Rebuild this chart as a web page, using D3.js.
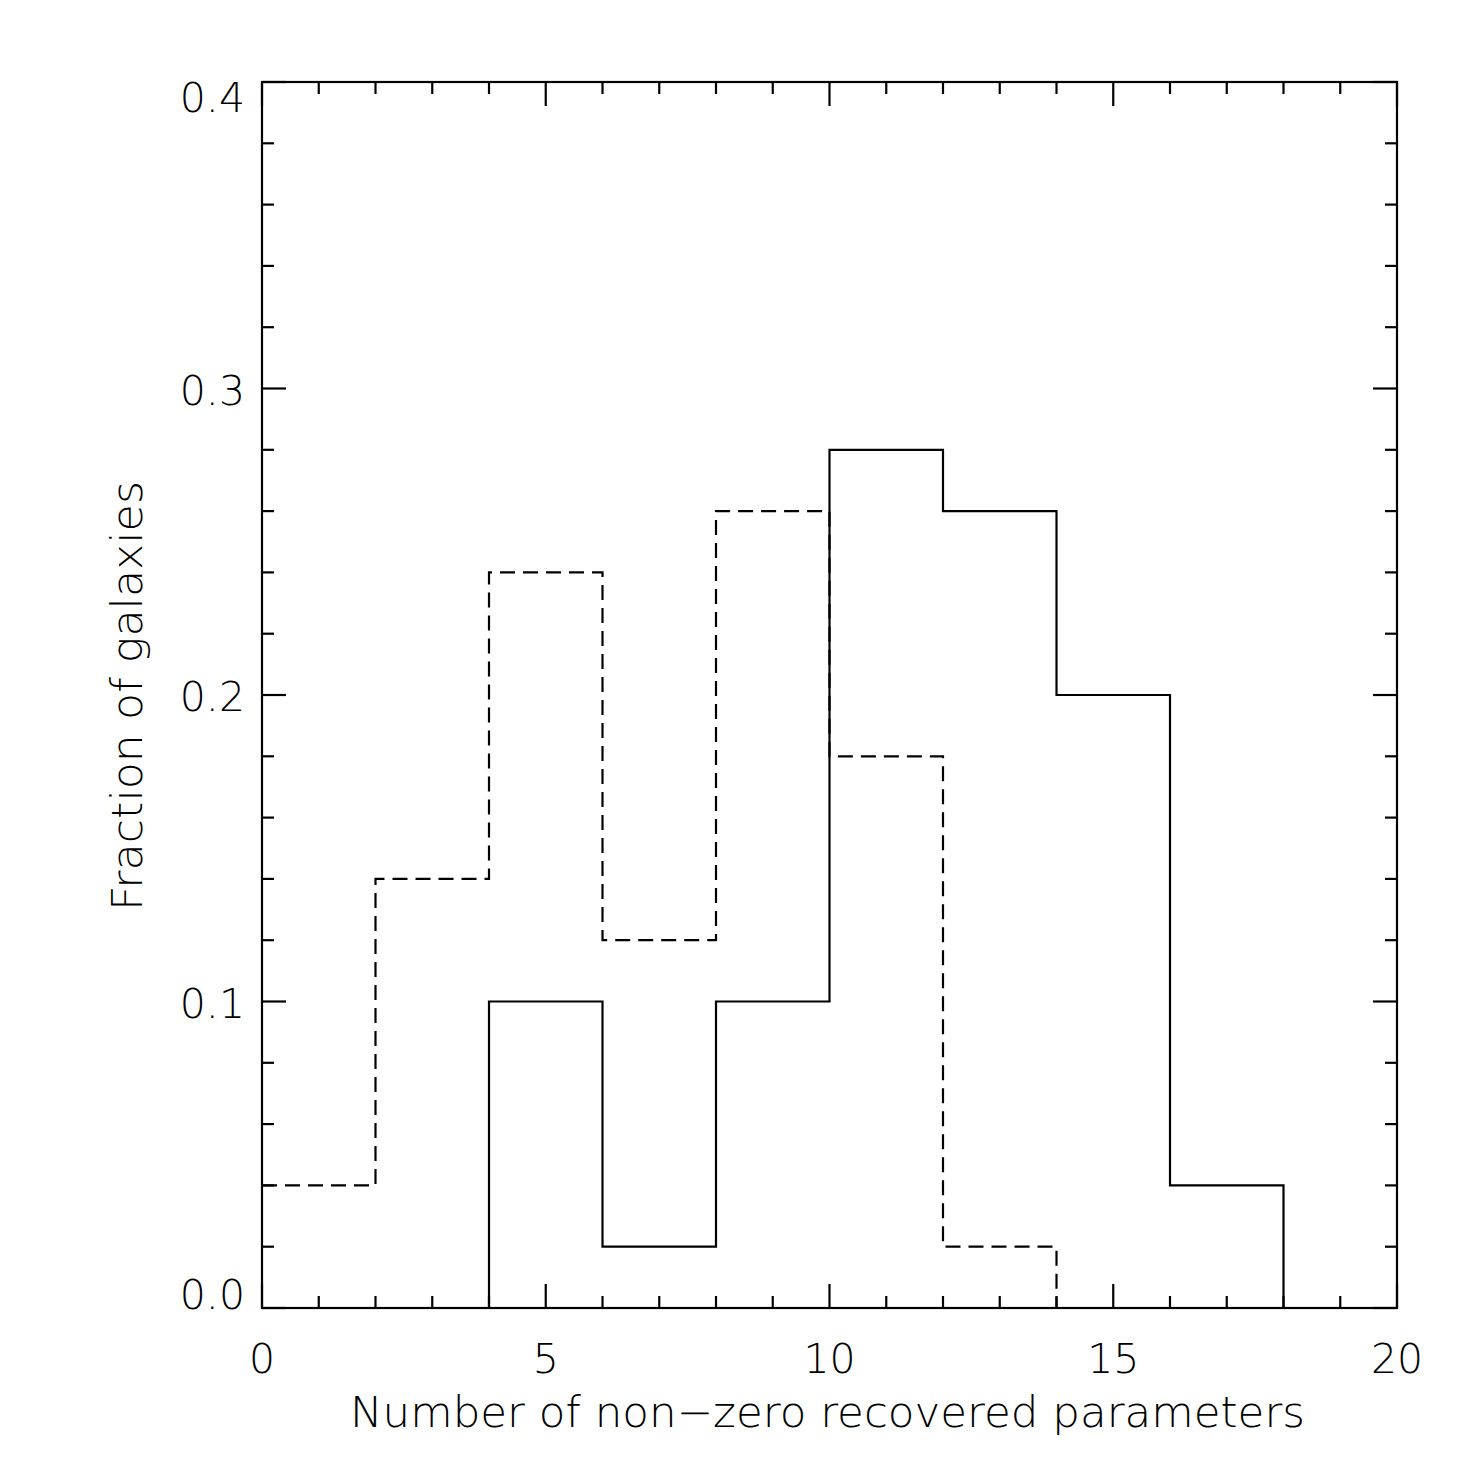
<!DOCTYPE html>
<html>
<meta charset="utf-8">
<head>
<style>
  body { margin: 0; background: #fff; }
  text { font-family: "DejaVu Sans", sans-serif; font-weight: 200; fill: #000; }
  .hist { fill: none; stroke: #000; stroke-width: 2.2px; }
</style>
</head>
<body>
<div id="chart"></div>
<script src="https://d3js.org/d3.v7.min.js"></script>
<script>
// bin edges and fractions (bins of width 2)
const binEdges = [0, 2, 4, 6, 8, 10, 12, 14, 16, 18, 20];
const solidFrac = [0, 0, 0.10, 0.02, 0.10, 0.28, 0.26, 0.20, 0.04, 0];
const dashedFrac = [0.04, 0.14, 0.24, 0.12, 0.26, 0.18, 0.02, 0, 0, 0];
const xTicks = [0, 5, 10, 15, 20];
const yTicks = [0.0, 0.1, 0.2, 0.3, 0.4];

var W = 1475, H = 1475;
var margin = { top: 82, right: 78, bottom: 167, left: 262 },
    width = W - margin.left - margin.right,
    height = H - margin.top - margin.bottom;

var svg = d3.select("#chart").append("svg")
    .attr("width", W).attr("height", H);
var g = svg.append("g")
    .attr("transform", "translate(" + margin.left + "," + margin.top + ")");

var x = d3.scaleLinear().domain([0, 20]).range([0, width]);
var y = d3.scaleLinear().domain([0, 0.4]).range([height, 0]);

// histogram step path: start where first non-zero bin begins
function stepPath(vals) {
    var first = vals.findIndex(v => v > 0);
    var last = vals.length - 1 - vals.slice().reverse().findIndex(v => v > 0);
    var p = d3.path();
    if (first === 0) p.moveTo(x(binEdges[0]), y(vals[0]));
    else { p.moveTo(x(binEdges[first]), y(0)); p.lineTo(x(binEdges[first]), y(vals[first])); }
    for (var i = first; i <= last; i++) {
        if (i > first) p.lineTo(x(binEdges[i]), y(vals[i]));
        p.lineTo(x(binEdges[i + 1]), y(vals[i]));
    }
    p.lineTo(x(binEdges[last + 1]), y(0));
    return p.toString();
}

g.append("path").attr("class", "hist").attr("d", stepPath(solidFrac));
g.append("path").attr("class", "hist").attr("d", stepPath(dashedFrac))
    .style("stroke-dasharray", "15,8");

// frame
g.append("rect").attr("width", width).attr("height", height)
    .attr("fill", "none").attr("stroke", "#000").attr("stroke-width", 2.2);

// ticks on all four sides
var xMinor = d3.range(0, 21, 1), yMinor = d3.range(0, 0.401, 0.02);
function isMajorX(v) { return Math.abs(v % 5) < 1e-6; }
function isMajorY(v) { return Math.abs(Math.round(v * 10) - v * 10) < 1e-6; }

var tk = g.append("g").attr("stroke", "#000").attr("stroke-width", 2.2);
xMinor.forEach(function (v) {
    var len = isMajorX(v) ? 24 : 12;
    tk.append("line").attr("x1", x(v)).attr("x2", x(v)).attr("y1", height).attr("y2", height - len);
    tk.append("line").attr("x1", x(v)).attr("x2", x(v)).attr("y1", 0).attr("y2", len);
});
yMinor.forEach(function (v) {
    var len = isMajorY(v) ? 24 : 12;
    tk.append("line").attr("y1", y(v)).attr("y2", y(v)).attr("x1", 0).attr("x2", len);
    tk.append("line").attr("y1", y(v)).attr("y2", y(v)).attr("x1", width).attr("x2", width - len);
});

// tick labels (end labels kept inside the axis range, like IDL)
g.selectAll(".xl").data(xTicks).join("text")
    .attr("x", d => x(d)).attr("y", height + 65)
    .attr("text-anchor", "middle").style("font-size", "41px")
    .text(d => d);
g.selectAll(".yl").data(yTicks).join("text")
    .attr("x", -17)
    .attr("y", function (d) {
        if (d === 0) return y(d) + 1;
        if (d === 0.4) return y(d) + 30;
        return y(d) + 16;
    })
    .attr("text-anchor", "end").style("font-size", "41px")
    .text(d => d.toFixed(1));

// axis titles
svg.append("text")
    .attr("x", 350).attr("y", 1427)
    .attr("textLength", 955).attr("lengthAdjust", "spacingAndGlyphs")
    .style("font-size", "43px")
    .text("Number of non\u2212zero recovered parameters");
svg.append("text")
    .attr("transform", "translate(142,911) rotate(-90)")
    .attr("textLength", 430).attr("lengthAdjust", "spacingAndGlyphs")
    .style("font-size", "43px")
    .text("Fraction of galaxies");
</script>
</body>
</html>
